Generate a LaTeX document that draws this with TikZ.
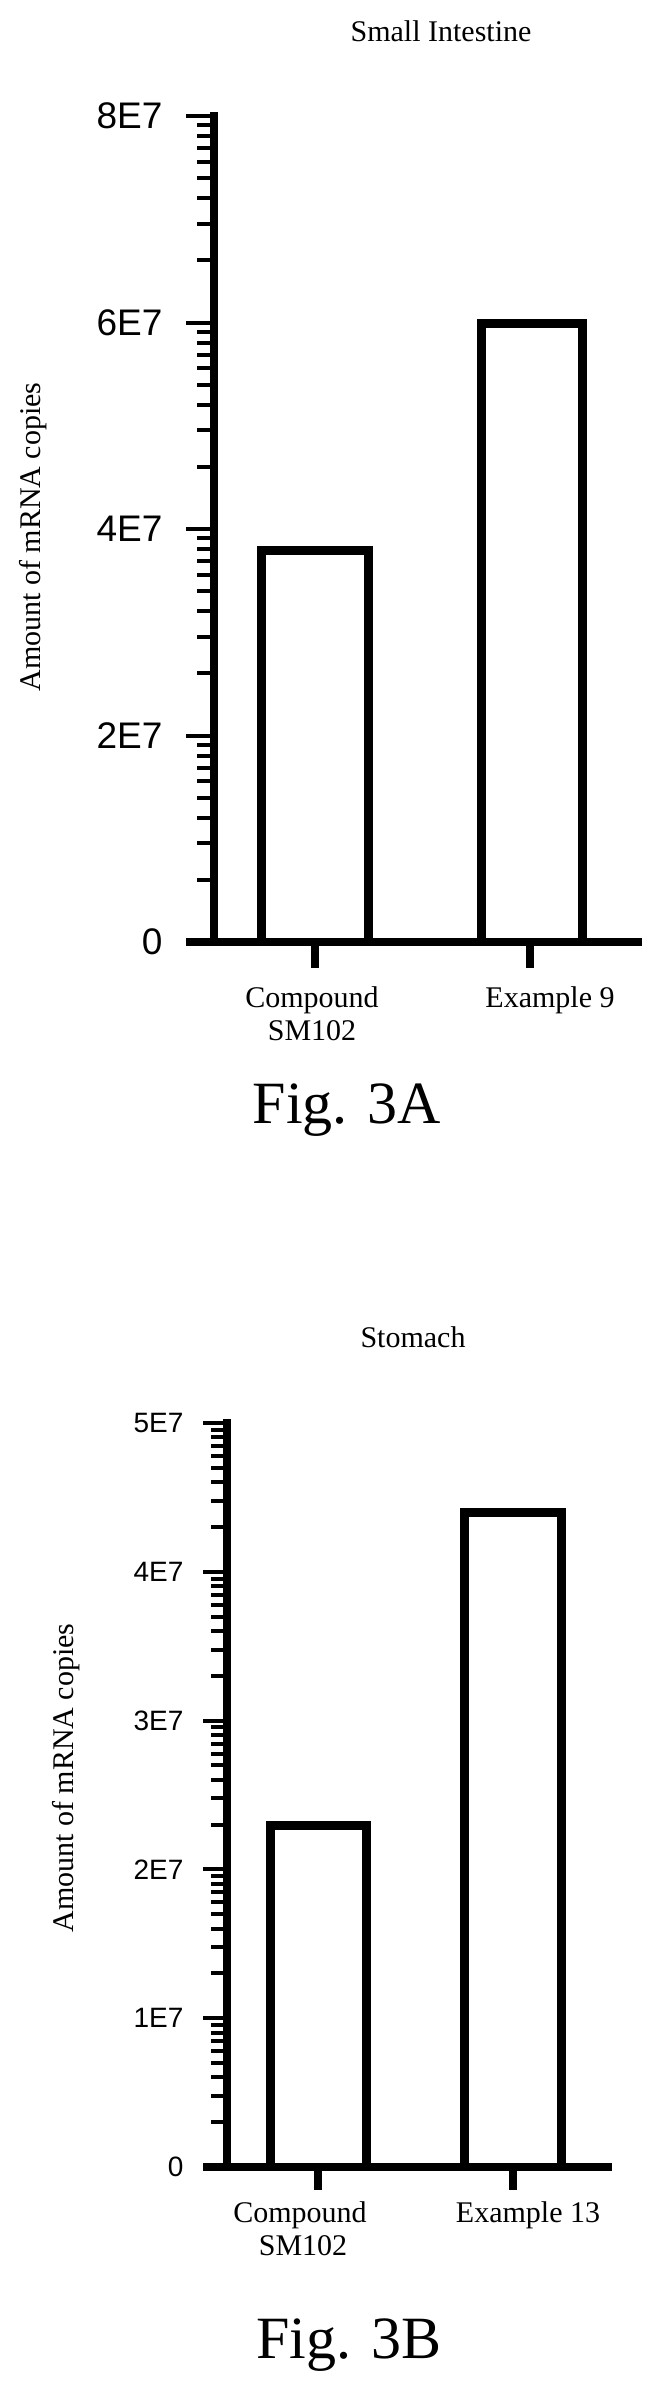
\documentclass[tikz,border=0pt]{standalone}
\usepackage{fontspec}
\setmainfont{Liberation Serif}
\setsansfont{Liberation Sans}
\begin{document}
\begin{tikzpicture}[x=1pt,y=-1pt,
  axis/.style={line width=8pt},
  tk/.style={line width=4pt},
  barbox/.style={line width=9pt,line join=miter},
  ser/.style={font=\fontsize{30}{32}\selectfont},
  num/.style={font=\sffamily\fontsize{#1}{#1}\selectfont,anchor=east},
  fig/.style={font=\fontsize{60}{62}\selectfont,anchor=base}]
\useasboundingbox (0,0) rectangle (657,2390);
% ---------- Fig 3A ----------
\node[ser,anchor=center] (t1) at (441,31) {Small Intestine};
\draw[axis] (214,112) -- (214,946);
\draw[axis] (186,942) -- (642,942);
\foreach \v/\yy in {0/942,2E7/735.5,4E7/529,6E7/322.5,8E7/116}{
  \draw[tk] (186,\yy) -- (214,\yy);
  \node[num=37] (a\v) at (166,\yy) {\v};
}
\foreach \b in {942,735.5,529,322.5}{
  \foreach \k in {2,...,9}{
    \draw[tk] (197,{\b-log10(\k)*206.5}) -- (214,{\b-log10(\k)*206.5});
  }
}
\draw[barbox] (261.5,942) -- (261.5,550) -- (368.5,550) -- (368.5,942);
\draw[barbox] (481.5,942) -- (481.5,323) -- (582.5,323) -- (582.5,942);
\draw[axis] (315,942) -- (315,968);
\draw[axis] (530,942) -- (530,968);
\node[ser,anchor=base] (c1) at (312,1007) {Compound};
\node[ser,anchor=base] (s1) at (312,1040) {SM102};
\node[ser,anchor=base] (e9) at (550,1007) {Example 9};
\node[ser,rotate=90,anchor=center] (y1) at (33,537) {Amount of mRNA copies};
\node[fig] (f1) at (347,1123) {Fig. 3A};
% ---------- Fig 3B ----------
\node[ser,anchor=center] (t2) at (413,1337) {Stomach};
\draw[axis] (227,1419) -- (227,2171);
\draw[axis] (203,2167) -- (612,2167);
\foreach \v/\yy in {0/2167,1E7/2018.2,2E7/1869.4,3E7/1720.6,4E7/1571.8,5E7/1423}{
  \draw[tk] (203,\yy) -- (227,\yy);
  \node[num=28] (b\v) at (187,\yy) {\v};
}
\foreach \b in {2167,2018.2,1869.4,1720.6,1571.8}{
  \foreach \k in {2,...,9}{
    \draw[tk] (211,{\b-log10(\k)*148.8}) -- (227,{\b-log10(\k)*148.8});
  }
}
\draw[barbox] (270.5,2167) -- (270.5,1825) -- (366.5,1825) -- (366.5,2167);
\draw[barbox] (464.5,2167) -- (464.5,1512) -- (561.5,1512) -- (561.5,2167);
\draw[axis] (318,2167) -- (318,2190);
\draw[axis] (513,2167) -- (513,2190);
\node[ser,anchor=base] (c2) at (300,2222) {Compound};
\node[ser,anchor=base] (s2) at (303,2255) {SM102};
\node[ser,anchor=base] (e13) at (528,2222) {Example 13};
\node[ser,rotate=90,anchor=center] (y2) at (66,1778) {Amount of mRNA copies};
\node[fig] (f2) at (349,2358) {Fig. 3B};
\end{tikzpicture}
\end{document}
